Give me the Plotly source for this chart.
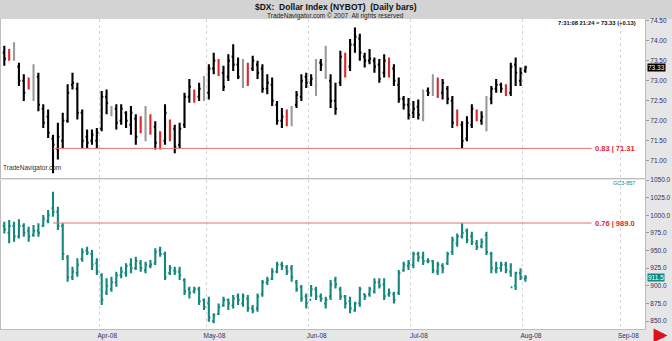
import numpy as np
import plotly.graph_objects as go

# ---------------- data ----------------
title_text = "$DX:  Dollar Index (NYBOT)  (Daily bars)"
subtitle_text = "TradeNavigator.com © 2007  All rights reserved"
header_text = "7:31:08 21:24 = 73.33 (+0.13)"
watermark_text = "TradeNavigator.com"
gc_symbol = "GC3-857"

dx_high = [73.87, 73.79, 73.96, 73.45, 73.16, 73.08, 73.41, 73.20, 72.41, 72.28,
           71.65, 71.95, 72.20, 72.91, 73.20, 72.95, 72.28, 71.78, 71.78, 71.82,
           72.74, 72.78, 72.37, 72.41, 72.41, 72.24, 72.37, 72.16, 72.11, 72.37,
           72.16, 71.99, 71.74, 72.41, 72.03, 71.90, 71.95, 72.70, 73.04, 72.78,
           72.95, 73.12, 73.41, 73.70, 73.54, 73.37, 73.66, 73.91, 73.58, 73.54,
           73.45, 73.62, 73.50, 73.41, 73.16, 73.08, 72.49, 72.32, 72.28, 72.37,
           72.74, 73.16, 73.20, 73.16, 73.54, 73.54, 73.87, 73.16, 72.95, 73.75,
           73.70, 74.04, 74.33, 74.17, 73.70, 73.79, 73.58, 73.54, 73.66, 73.58,
           73.41, 73.08, 72.62, 72.57, 72.49, 72.53, 72.78, 72.83, 73.16, 73.08,
           73.04, 72.87, 72.62, 72.28, 71.99, 72.11, 72.41, 72.28, 72.24, 72.62,
           72.87, 73.04, 72.95, 72.91, 73.45, 73.58, 73.33, 73.37]
dx_low = [73.37, 73.50, 73.50, 72.87, 72.49, 72.78, 72.49, 72.24, 71.82, 71.57,
          70.69, 71.03, 71.32, 71.95, 72.78, 72.03, 71.32, 71.32, 71.40, 71.32,
          71.74, 72.16, 72.11, 71.78, 71.90, 71.82, 71.65, 71.40, 71.69, 71.49,
          71.65, 71.28, 71.28, 71.40, 71.49, 71.19, 71.32, 71.82, 72.45, 72.45,
          72.49, 72.49, 72.53, 73.16, 73.12, 72.74, 72.99, 73.24, 73.04, 72.82,
          72.87, 73.24, 73.04, 72.70, 72.66, 72.37, 71.90, 71.82, 71.86, 71.86,
          72.32, 72.49, 72.82, 72.87, 72.62, 73.24, 73.04, 72.32, 72.15, 72.87,
          73.08, 73.24, 73.70, 73.50, 73.33, 73.41, 73.20, 72.95, 73.08, 73.08,
          72.87, 72.45, 72.28, 72.03, 72.07, 72.03, 71.99, 72.62, 72.62, 72.57,
          72.53, 72.41, 71.82, 71.86, 71.32, 71.49, 71.82, 71.99, 71.90, 71.74,
          72.41, 72.70, 72.70, 72.62, 72.62, 72.87, 72.87, 73.20]
dx_open = [73.70, 73.70, 73.55, 73.35, 73.00, 73.00, 72.60, 73.10, 72.30, 72.10,
           71.55, 71.30, 71.50, 72.00, 72.90, 72.80, 72.20, 71.60, 71.50, 71.50,
           71.80, 72.60, 72.30, 72.30, 72.00, 72.20, 71.90, 72.05, 72.00, 71.70,
           72.00, 71.85, 71.60, 71.50, 71.90, 71.80, 71.40, 71.90, 72.60, 72.70,
           72.60, 72.70, 72.70, 73.30, 73.45, 73.20, 73.10, 73.60, 73.40, 73.00,
           73.30, 73.30, 73.40, 73.30, 72.80, 72.90, 72.40, 72.00, 72.20, 71.95,
           72.40, 72.60, 73.10, 72.95, 72.70, 73.45, 73.20, 73.00, 72.50, 72.95,
           73.60, 73.35, 73.90, 74.05, 73.60, 73.50, 73.50, 73.40, 73.20, 73.45,
           73.30, 72.90, 72.55, 72.40, 72.20, 72.35, 72.10, 72.75, 72.70, 72.95,
           72.70, 72.80, 72.50, 72.20, 71.90, 71.55, 71.90, 72.25, 72.00, 71.85,
           72.55, 72.80, 72.90, 72.85, 72.70, 73.40, 73.00, 73.25]
dx_close = [73.55, 73.60, 73.75, 73.00, 72.70, 72.90, 73.30, 72.40, 71.95, 71.70,
            71.40, 71.60, 72.00, 72.70, 72.95, 72.20, 71.50, 71.45, 71.65, 71.70,
            72.60, 72.45, 72.20, 71.95, 72.30, 72.00, 72.20, 71.60, 71.85, 72.10,
            71.80, 71.45, 71.40, 72.20, 71.70, 71.35, 71.80, 72.60, 72.85, 72.60,
            72.80, 72.95, 73.30, 73.50, 73.25, 72.85, 73.50, 73.40, 73.10, 73.40,
            73.00, 73.50, 73.20, 72.80, 72.95, 72.50, 72.00, 72.10, 72.00, 72.25,
            72.65, 73.00, 72.95, 73.05, 73.45, 73.40, 73.80, 72.50, 72.30, 73.60,
            73.30, 73.90, 74.10, 73.70, 73.50, 73.55, 73.35, 73.05, 73.50, 73.20,
            73.00, 72.55, 72.40, 72.15, 72.30, 72.15, 72.70, 72.70, 73.05, 72.70,
            72.95, 72.55, 71.95, 72.00, 71.50, 71.95, 72.30, 72.05, 72.10, 72.55,
            72.80, 72.90, 72.80, 72.70, 73.35, 73.20, 73.20, 73.33]
# bar classification as drawn by the platform: n = normal, s = signal, q = quiet
dx_flag = ["n", "s", "q", "n", "n", "s", "q", "n", "n", "n",
           "n", "n", "n", "n", "n", "n", "n", "n", "n", "n",
           "n", "n", "q", "n", "n", "n", "n", "n", "s", "q",
           "s", "n", "s", "n", "s", "n", "n", "n", "n", "s",
           "n", "q", "n", "n", "s", "n", "n", "n", "n", "q",
           "s", "n", "n", "n", "n", "n", "n", "n", "s", "q",
           "n", "n", "n", "n", "q", "n", "q", "n", "n", "n",
           "s", "n", "n", "n", "n", "n", "n", "n", "n", "s",
           "n", "n", "n", "n", "n", "n", "q", "n", "q", "s",
           "n", "n", "n", "s", "n", "n", "n", "s", "n", "q",
           "n", "n", "n", "s", "n", "n", "n", "n"]

gc_high = [990.9, 993.2, 990.9, 994.2, 988.5, 983.8, 986.2, 988.5, 1000.3, 1007.4,
           1033.4, 1012.2, 988.5, 943.6, 927.1, 938.9, 953.1, 955.4, 950.7, 938.9,
           917.6, 910.5, 912.9, 920.0, 927.1, 931.8, 938.9, 941.2, 936.5, 934.1,
           936.5, 953.1, 955.4, 948.3, 929.4, 927.1, 927.1, 910.5, 898.7, 898.7,
           898.7, 882.1, 884.5, 860.9, 875.0, 884.5, 882.1, 886.9, 889.2, 889.2,
           886.9, 872.7, 889.2, 908.1, 912.9, 924.7, 934.1, 934.1, 929.4, 929.4,
           908.1, 901.0, 889.2, 901.0, 898.7, 889.2, 884.5, 908.1, 912.9, 898.7,
           886.9, 884.5, 877.4, 898.7, 889.2, 898.7, 910.5, 910.5, 910.5, 896.3,
           891.6, 922.3, 934.1, 936.5, 948.3, 948.3, 948.3, 938.9, 936.5, 934.1,
           931.8, 948.3, 969.6, 974.3, 988.5, 981.4, 976.7, 964.9, 967.2, 976.7,
           948.3, 934.1, 934.1, 934.1, 931.8, 920.0, 924.7, 915.2]
gc_low = [974.3, 960.2, 962.5, 967.2, 969.6, 962.5, 969.6, 969.6, 983.8, 988.5,
          998.0, 979.1, 936.5, 905.8, 908.1, 912.9, 934.1, 943.6, 922.3, 915.2,
          872.7, 886.9, 891.6, 898.7, 910.5, 912.9, 917.6, 922.3, 920.0, 917.6,
          924.7, 929.4, 941.2, 908.1, 915.2, 915.2, 908.1, 886.9, 882.1, 889.2,
          872.7, 865.6, 849.0, 846.7, 858.5, 870.3, 865.6, 867.9, 872.7, 870.3,
          863.2, 860.9, 863.2, 884.5, 901.0, 908.1, 917.6, 922.3, 915.2, 905.8,
          891.6, 877.4, 867.9, 884.5, 879.8, 877.4, 867.9, 879.8, 896.3, 879.8,
          867.9, 860.9, 863.2, 870.3, 879.8, 884.5, 889.2, 896.3, 879.8, 884.5,
          875.0, 886.9, 920.0, 922.3, 924.7, 934.1, 929.4, 931.8, 917.6, 915.2,
          917.6, 929.4, 943.6, 955.4, 967.2, 960.2, 957.8, 950.7, 953.1, 943.6,
          917.6, 917.6, 920.0, 917.6, 912.9, 893.9, 908.1, 905.8]
gc_open = [985, 975, 985, 970, 985, 978, 972, 978, 985, 992,
           1010, 1005, 985, 940, 912, 918, 938, 950, 945, 932,
           915, 890, 895, 905, 915, 918, 930, 925, 932, 922,
           928, 932, 950, 945, 918, 922, 920, 908, 895, 892,
           895, 880, 875, 850, 860, 872, 880, 872, 885, 875,
           882, 868, 868, 888, 905, 910, 920, 930, 926, 925,
           905, 898, 885, 880, 895, 885, 875, 885, 908, 895,
           885, 878, 865, 875, 888, 888, 892, 905, 902, 888,
           888, 890, 922, 928, 930, 945, 940, 935, 935, 920,
           928, 932, 948, 960, 970, 978, 970, 960, 956, 972,
           945, 922, 925, 930, 920, 900, 918, 910]
gc_close = [980, 985, 970, 985, 975, 970, 978, 975, 995, 1000,
            1005, 985, 945, 912, 920, 930, 948, 947, 930, 920,
            880, 900, 905, 915, 920, 928, 925, 935, 925, 930,
            930, 948, 945, 912, 925, 920, 915, 892, 890, 895,
            878, 870, 855, 858, 870, 880, 875, 882, 880, 885,
            868, 865, 885, 905, 908, 920, 930, 928, 920, 912,
            895, 882, 875, 895, 885, 882, 880, 902, 902, 885,
            875, 868, 875, 895, 885, 895, 905, 900, 885, 890,
            880, 918, 930, 932, 945, 940, 935, 935, 922, 930,
            925, 945, 965, 970, 975, 965, 962, 955, 962, 948,
            925, 925, 930, 922, 898, 918, 912, 911.5]

month_labels = ["Apr-08", "May-08", "Jun-08", "Jul-08", "Aug-08", "Sep-08"]
month_start_bar = [20, 42, 63, 84, 107, 127]

ref_start_bar = 10
dx_ref_level = 71.31
dx_ref_ratio = 0.83
gc_ref_level = 989.0
gc_ref_ratio = 0.76
dx_last = 73.33
gc_last = 911.5

dx_ticks = [71.0, 71.5, 72.0, 72.5, 73.0, 73.5, 74.0, 74.5]
gc_ticks = [850.0, 875.0, 900.0, 925.0, 950.0, 975.0, 1000.0, 1025.0, 1050.0]

# ---------------- figure ----------------
BLACK = "#000000"
RED_BAR = "#E0262C"
GRAY_BAR = "#9A9A9A"
TEAL = "#16877D"
AXIS_TXT = "#2E2E6A"
REF_LINE = "#E77070"
REF_TXT = "#E8202E"
FONT = "Liberation Sans, Arial, sans-serif"
BAR_W = 2.1

fig = go.Figure()

idx = np.arange(len(dx_close))
flags = np.array(dx_flag)
for flag, color in [("n", BLACK), ("s", RED_BAR), ("q", GRAY_BAR)]:
    m = flags == flag
    xs = idx[m]
    md = float(np.min(np.diff(xs))) if len(xs) > 1 else 1.0
    fig.add_trace(go.Ohlc(
        x=xs,
        open=np.array(dx_open)[m], high=np.array(dx_high)[m],
        low=np.array(dx_low)[m], close=np.array(dx_close)[m],
        increasing=dict(line=dict(color=color, width=BAR_W)),
        decreasing=dict(line=dict(color=color, width=BAR_W)),
        tickwidth=0.32 / md, showlegend=False, hoverinfo="skip",
        xaxis="x", yaxis="y"))

gidx = np.arange(len(gc_close))
fig.add_trace(go.Ohlc(
    x=gidx, open=gc_open, high=gc_high, low=gc_low, close=gc_close,
    increasing=dict(line=dict(color=TEAL, width=BAR_W)),
    decreasing=dict(line=dict(color=TEAL, width=BAR_W)),
    tickwidth=0.32, showlegend=False, hoverinfo="skip",
    xaxis="x2", yaxis="y2"))

grid_pos = [b - 0.5 for b in month_start_bar]
xr = [-0.68, 131.56]

common_x = dict(range=xr, tickvals=grid_pos, showgrid=True, gridcolor="#D6D6D6",
                griddash="dot", gridwidth=1, zeroline=False, ticks="",
                showline=True, linecolor="#BDBDBD", linewidth=1,
                rangeslider=dict(visible=False), fixedrange=True)

fig.update_layout(
    width=672, height=341,
    margin=dict(l=1, r=27, t=19, b=12),
    paper_bgcolor="#E6E6E6", plot_bgcolor="#FFFFFF",
    font=dict(family=FONT, size=7, color=AXIS_TXT),
    xaxis=dict(**common_x, anchor="y", showticklabels=False),
    xaxis2=dict(**common_x, anchor="y2", matches="x", ticktext=month_labels,
                showticklabels=True, ticklabelshift=8,
                tickfont=dict(size=6.5, color=AXIS_TXT, family=FONT)),
    yaxis=dict(domain=[0.487, 1.0], range=[70.57, 74.54], side="right",
               tickvals=dx_ticks, tickformat=".2f", showgrid=False, zeroline=False,
               ticks="outside", ticklen=3, tickcolor="#9A9A9A",
               showline=True, mirror=True, linecolor="#BDBDBD",
               tickfont=dict(size=6.5, color=AXIS_TXT, family=FONT), anchor="x"),
    yaxis2=dict(domain=[0.0, 0.4806], range=[838.7, 1050.0], side="right",
                tickvals=gc_ticks, tickformat=".1f", showgrid=False, zeroline=False,
                ticks="outside", ticklen=3, tickcolor="#9A9A9A",
                showline=True, mirror=True, linecolor="#BDBDBD",
                tickfont=dict(size=6.5, color=AXIS_TXT, family=FONT), anchor="x2"),
)

# title bar
fig.add_shape(type="rect", xref="paper", yref="paper", x0=-0.01, x1=1.05,
              y0=1.0, y1=1.07, fillcolor="#D3D3D3", line=dict(width=0), layer="below")

# reference lines
line_end = 120.6
fig.add_shape(type="line", xref="x", yref="y", x0=ref_start_bar, x1=line_end,
              y0=dx_ref_level, y1=dx_ref_level, line=dict(color=REF_LINE, width=1))
fig.add_shape(type="line", xref="x2", yref="y2", x0=ref_start_bar, x1=line_end,
              y0=gc_ref_level, y1=gc_ref_level, line=dict(color=REF_LINE, width=1))

ann = []
ann.append(dict(xref="x", yref="y", x=line_end + 0.3, y=dx_ref_level, xanchor="left",
                yanchor="middle", showarrow=False,
                text=f"<b>{dx_ref_ratio:.2f} | {dx_ref_level:.2f}</b>",
                font=dict(size=7.5, color=REF_TXT, family=FONT)))
ann.append(dict(xref="x2", yref="y2", x=line_end + 0.3, y=gc_ref_level, xanchor="left",
                yanchor="middle", showarrow=False,
                text=f"<b>{gc_ref_ratio:.2f} | {gc_ref_level:.1f}</b>",
                font=dict(size=7.5, color=REF_TXT, family=FONT)))
# titles
ann.append(dict(xref="paper", yref="paper", x=0.52, y=1.0, yshift=12, xanchor="center",
                yanchor="middle", showarrow=False, text=f"<b>{title_text}</b>",
                font=dict(size=8.5, color="#111111", family=FONT)))
ann.append(dict(xref="paper", yref="paper", x=0.52, y=1.0, yshift=3, xanchor="center",
                yanchor="middle", showarrow=False, text=subtitle_text,
                font=dict(size=6.5, color="#222222", family=FONT)))
ann.append(dict(xref="paper", yref="paper", x=0.9885, y=1.0, yshift=-4, xanchor="right",
                yanchor="middle", showarrow=False, text=f"<b>{header_text}</b>",
                font=dict(size=5.8, color="#111111", family=FONT)))
ann.append(dict(xref="paper", yref="paper", x=0.0, y=0.487, yshift=4, xanchor="left",
                yanchor="bottom", showarrow=False, text=watermark_text,
                font=dict(size=6.5, color="#333333", family=FONT)))
ann.append(dict(xref="paper", yref="paper", x=0.988, y=0.4806, yshift=-3, xanchor="right",
                yanchor="middle", showarrow=False, text=gc_symbol,
                font=dict(size=5.5, color=TEAL, family=FONT)))
# last price boxes
ann.append(dict(xref="paper", yref="y", x=1.0, xshift=2, y=dx_last, xanchor="left",
                yanchor="middle", showarrow=False, text=f"{dx_last:.2f}",
                bgcolor="#000000", borderpad=0,
                font=dict(size=6.5, color="#FFFFFF", family=FONT)))
ann.append(dict(xref="paper", yref="y2", x=1.0, xshift=2, y=gc_last, xanchor="left",
                yanchor="middle", showarrow=False, text=f"{gc_last:.1f}",
                bgcolor=TEAL, borderpad=0,
                font=dict(size=6.5, color="#FFFFFF", family=FONT)))
# red arrow bottom-right
ann.append(dict(xref="paper", yref="paper", x=1.035, y=-0.021, ax=-15, ay=0,
                showarrow=True, arrowhead=2, arrowsize=0.7, arrowwidth=4,
                arrowcolor="#E0101A", text=""))
fig.update_layout(annotations=ann)

fig.write_html("out.html")
